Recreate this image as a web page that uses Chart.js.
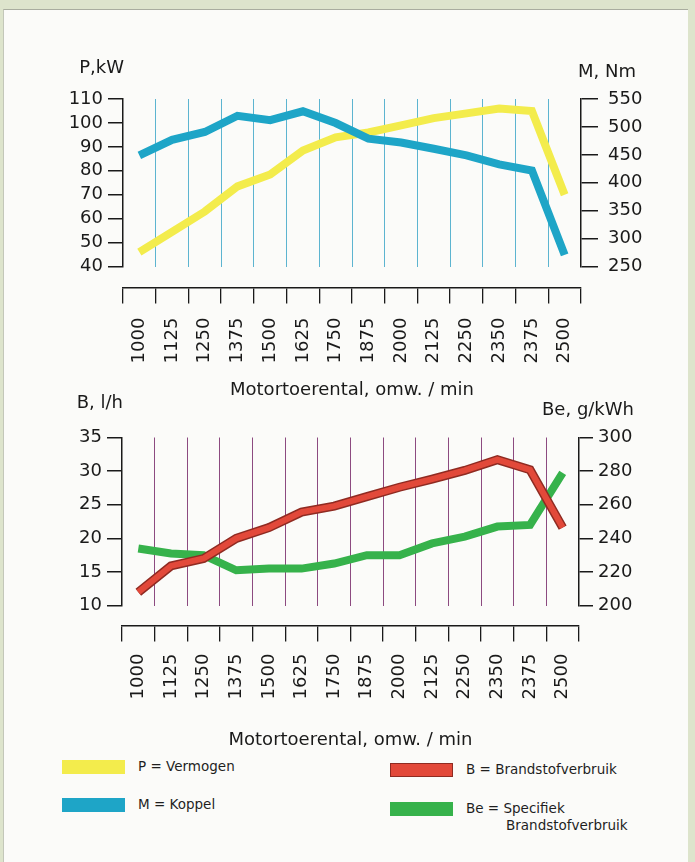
<!DOCTYPE html>
<html lang="nl">
<head>
<meta charset="utf-8">
<title>Motorkarakteristiek</title>
<script src="https://cdn.jsdelivr.net/npm/chart.js@4.4.1/dist/chart.umd.min.js"></script>
<style>
  html, body { margin: 0; padding: 0; }
  body {
    width: 695px; height: 862px; position: relative; overflow: hidden;
    background: #dde4cc;
    font-family: "DejaVu Sans", sans-serif;
  }
  #blad {
    position: absolute; left: 3px; top: 9px; width: 684px; height: 853px;
    background: #fbfbf9;
    border-top: 1px solid #a9ad9f; border-left: 1px solid #c3c7b9;
  }
  canvas { position: absolute; left: 0; }
  #grafiekBoven { top: 0; }
  #grafiekOnder { top: 380px; }
  .balk { position: absolute; width: 63px; height: 14px; }
  .tekst { position: absolute; font-size: 13.5px; line-height: 17px; color: #1f1f1f; white-space: nowrap; }
  .tekst span { display: block; padding-left: 40px; }
</style>
</head>
<body>
<div id="blad"></div>
<canvas id="grafiekBoven" width="695" height="401"></canvas>
<canvas id="grafiekOnder" width="695" height="371"></canvas>
<div id="legenda"></div>

<script>
// toerental (omw./min) zoals op de as gedrukt
const toerentallen = ['1000', '1125', '1250', '1375', '1500', '1625', '1750', '1875', '2000', '2125', '2250', '2350', '2375', '2500'];

// bovenste grafiek
const vermogen = [46, 54.5, 63, 73.5, 78.5, 88.5, 94, 96, 99, 102, 104, 106, 105, 70];      // P, kW
const koppel = [449, 477, 491, 520, 512, 528, 507, 479, 472, 461, 449, 433, 422, 271];     // M, Nm

// onderste grafiek
const verbruik = [12, 15.9, 17, 20, 21.6, 23.9, 24.8, 26.2, 27.6, 28.8, 30.1, 31.7, 30.2, 21.6]; // B, l/h
const specifiek = [234, 231, 230, 221, 222, 222, 225, 230, 230, 237, 241, 247, 248, 279];        // Be, g/kWh

// schaalverdelingen
const kwTicks = [40, 50, 60, 70, 80, 90, 100, 110];
const nmTicks = [250, 300, 350, 400, 450, 500, 550];
const lhTicks = [10, 15, 20, 25, 30, 35];
const gkwhTicks = [200, 220, 240, 260, 280, 300];

const asTitel = 'Motortoerental, omw. / min';
const legendaTeksten = ['P = Vermogen', 'M = Koppel', 'B = Brandstofverbruik', 'Be = Specifiek\nBrandstofverbruik'];

const kleuren = {
  vermogen: '#f3ec4c',
  koppel: '#1ea5c7',
  verbruik: '#e2493a',
  verbruikRand: '#8f2b22',
  specifiek: '#36b24b',
  as: '#1a1a1a'
};

const FONT = '"DejaVu Sans", "Liberation Sans", sans-serif';

// tekst "P,kW" / "M, Nm" boven de assen
const eenheidLabels = {
  id: 'eenheidLabels',
  afterDraw(chart, args, opts) {
    const { ctx, chartArea } = chart;
    ctx.save();
    ctx.font = '18px ' + FONT;
    ctx.fillStyle = kleuren.as;
    ctx.textAlign = 'right';
    ctx.textBaseline = 'alphabetic';
    ctx.fillText(opts.links, chartArea.left + 1, chartArea.top + opts.linksY);
    ctx.fillText(opts.rechts, chartArea.right + 55, chartArea.top + opts.rechtsY);
    ctx.restore();
  }
};

function yAs(positie, ticks, breedte, tickLen, pad) {
  return {
    position: positie,
    min: ticks[0],
    max: ticks[ticks.length - 1],
    afterBuildTicks: s => { s.ticks = ticks.map(v => ({ value: v })); },
    afterFit: s => { s.width = breedte; },
    grid: { drawOnChartArea: false, color: kleuren.as, lineWidth: 1.5, tickLength: tickLen },
    border: { display: true, color: kleuren.as, width: 1.5 },
    ticks: { color: kleuren.as, autoSkip: false, padding: pad, font: { family: FONT, size: 18 } }
  };
}

function maakGrafiek(id, inst) {
  const schalen = {
    x: {
      type: 'category',
      position: 'bottom',
      offset: true,
      afterFit: s => { s.height = inst.gat; },
      grid: {
        offset: true,
        drawTicks: false,
        lineWidth: 1,
        color: c => (c.type === 'tick' && c.index > 0) ? inst.raster : 'rgba(0,0,0,0)'
      },
      border: { display: false },
      ticks: { display: false }
    },
    xAs: {
      type: 'category',
      position: 'bottom',
      weight: 1,
      offset: true,
      grid: { offset: true, drawOnChartArea: false, color: kleuren.as, lineWidth: 1.3, tickLength: 16 },
      border: { display: true, color: kleuren.as, width: 1.5 },
      ticks: {
        color: kleuren.as, autoSkip: false, minRotation: 90, maxRotation: 90,
        padding: inst.labelPad, font: { family: FONT, size: 18 }
      },
      title: {
        display: true, text: asTitel, color: kleuren.as,
        font: { family: FONT, size: 18 }, padding: { top: inst.titelPad, bottom: 0 }
      }
    }
  };
  schalen[inst.links.id] = yAs('left', inst.links.ticks, inst.links.breedte, 15, 5);
  schalen[inst.rechts.id] = yAs('right', inst.rechts.ticks, inst.rechts.breedte, inst.rechts.tl, inst.rechts.pad);

  return new Chart(document.getElementById(id), {
    type: 'line',
    data: { labels: toerentallen, datasets: inst.reeksen },
    options: {
      responsive: false,
      animation: false,
      events: [],
      layout: { padding: { top: inst.boven, left: 0, right: 0, bottom: 0 } },
      elements: { point: { radius: 0 }, line: { tension: 0 } },
      scales: schalen,
      plugins: {
        legend: { display: false },
        tooltip: { enabled: false },
        eenheidLabels: inst.eenheden
      }
    },
    plugins: [eenheidLabels]
  });
}

document.addEventListener('DOMContentLoaded', function () {
  maakGrafiek('grafiekBoven', {
    boven: 99, gat: 21, labelPad: 14, titelPad: 2,
    raster: '#5cb4d0',
    links: { id: 'yP', ticks: kwTicks, breedte: 123 },
    rechts: { id: 'yM', ticks: nmTicks, breedte: 114, tl: 17, pad: 10 },
    eenheden: { links: 'P,kW', rechts: 'M, Nm', linksY: -26, rechtsY: -22 },
    reeksen: [
      { label: 'P', data: vermogen, yAxisID: 'yP', borderColor: kleuren.vermogen, borderWidth: 8, order: 2 },
      { label: 'M', data: koppel, yAxisID: 'yM', borderColor: kleuren.koppel, borderWidth: 8, order: 1 }
    ]
  });

  maakGrafiek('grafiekOnder', {
    boven: 57.5, gat: 20, labelPad: 12, titelPad: 18,
    raster: '#8c4a80',
    links: { id: 'yB', ticks: lhTicks, breedte: 122 },
    rechts: { id: 'yBe', ticks: gkwhTicks, breedte: 116, tl: 14, pad: 5 },
    eenheden: { links: 'B, l/h', rechts: 'Be, g/kWh', linksY: -29.5, rechtsY: -22.5 },
    reeksen: [
      { label: 'Be', data: specifiek, yAxisID: 'yBe', borderColor: kleuren.specifiek, borderWidth: 8, order: 3 },
      { label: 'B rand', data: verbruik, yAxisID: 'yB', borderColor: kleuren.verbruikRand, borderWidth: 9, order: 2 },
      { label: 'B', data: verbruik, yAxisID: 'yB', borderColor: kleuren.verbruik, borderWidth: 6, order: 1 }
    ]
  });

  // legenda onderaan
  const legendaKleuren = [kleuren.vermogen, kleuren.koppel, kleuren.verbruik, kleuren.specifiek];
  const legendaPlek = [[62, 760], [62, 798], [390, 763], [390, 802]];
  const legendaDiv = document.getElementById('legenda');
  let html = '';
  legendaTeksten.forEach((tekst, i) => {
    const [x, y] = legendaPlek[i];
    const rand = i === 2 ? 'box-shadow: inset 0 0 0 1px ' + kleuren.verbruikRand + ';' : '';
    const regels = tekst.split('\n');
    html += `<div class="balk" style="left:${x}px; top:${y}px; background:${legendaKleuren[i]}; ${rand}"></div>`;
    html += `<div class="tekst" style="left:${x + 76}px; top:${y - 2}px;">${regels[0]}${regels[1] ? '<span>' + regels[1] + '</span>' : ''}</div>`;
  });
  legendaDiv.innerHTML = html;
});
</script>
</body>
</html>
